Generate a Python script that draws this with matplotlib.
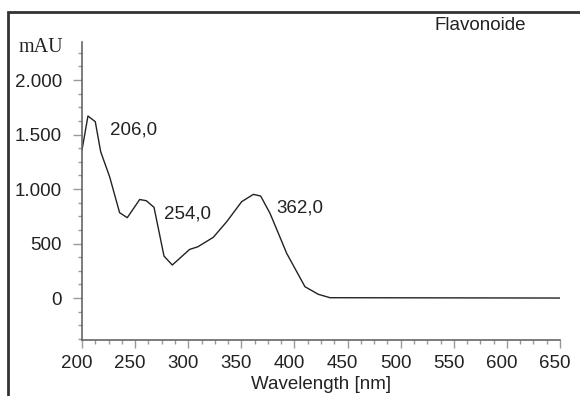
import matplotlib
matplotlib.use("Agg")
import matplotlib.pyplot as plt
from matplotlib.patches import Rectangle
from matplotlib.ticker import MultipleLocator, FuncFormatter
from matplotlib.transforms import ScaledTranslation

# UV spectrum of the flavonoid fraction (wavelength nm, absorbance mAU)
wavelength = [200, 205.6, 212.5, 217.6, 226, 235.4, 242.6, 254.3, 260.5, 267.8,
              277.2, 285, 301.3, 309, 314.2, 323.6, 336.2, 350.3, 361.3, 368.2,
              377, 384.9, 392.7, 409.9, 422.5, 433.5, 650]
absorbance = [1358, 1670, 1618, 1342, 1113, 783, 737, 904, 893, 832,
              385, 303, 446, 470, 501, 557, 700, 884, 951, 936,
              777, 593, 410, 104, 34, 3, 0]

peak_nm = [206.0, 254.0, 362.0]
peak_label_xy = [(226, 1541), (277, 768), (383, 822)]

plt.rcParams['font.family'] = ['Liberation Sans', 'DejaVu Sans']

fig = plt.figure(figsize=(5.8, 3.96), dpi=100)
ax = fig.add_axes([82 / 580, 56 / 396, 478 / 580, 298 / 396])

ax.plot(wavelength, absorbance, color='#222222', lw=1.0)

for p, (tx, ty) in zip(peak_nm, peak_label_xy):
    ax.text(tx, ty, f"{p:.1f}".replace(".", ","), fontsize=13.5,
            ha='left', va='center', color='#222222')

ax.set_xlim(200, 650)
ax.set_ylim(-385, 2349)

ax.xaxis.set_major_locator(MultipleLocator(50))
ax.xaxis.set_minor_locator(MultipleLocator(12.5))
ax.yaxis.set_major_locator(MultipleLocator(500))
ax.yaxis.set_minor_locator(MultipleLocator(125))
ax.yaxis.set_major_formatter(FuncFormatter(lambda v, _: f"{int(round(v)):,}".replace(",", ".")))

for s in ['top', 'right']:
    ax.spines[s].set_visible(False)
for s in ['left', 'bottom']:
    ax.spines[s].set_color('#666666')
    ax.spines[s].set_linewidth(1.2)

ax.tick_params(axis='both', which='both', direction='out', color='#999999', labelsize=13.5,
               labelcolor='#222222')
ax.tick_params(axis='y', which='major', length=6.5, width=1, pad=8)
ax.tick_params(axis='y', which='minor', length=3, width=1)
ax.tick_params(axis='x', which='major', length=6, width=1, pad=5)
ax.tick_params(axis='x', which='minor', length=3, width=1)

# x tick labels sit a little left of their ticks
shift = ScaledTranslation(-5 / 100, 0, fig.dpi_scale_trans)
for lab in ax.get_xticklabels():
    lab.set_transform(lab.get_transform() + shift)

ax.set_xlabel('Wavelength [nm]', fontsize=13.5, color='#222222', labelpad=3)
fig.text(41 / 580, 1 - 48 / 396, 'mAU', fontsize=14.5, family='Liberation Serif',
         ha='center', va='center', color='#222222')
fig.text(480 / 580, 1 - 25 / 396, 'Flavonoide', fontsize=13.5,
         ha='center', va='center', color='#222222')

# outer frame, open towards the right and bottom edges
fig.add_artist(Rectangle((8 / 580, -0.2), 1.5, 1.2 - 12 / 396,
                         transform=fig.transFigure, fill=False, lw=2, ec='#333333'))

fig.savefig('out.png', dpi=100)
